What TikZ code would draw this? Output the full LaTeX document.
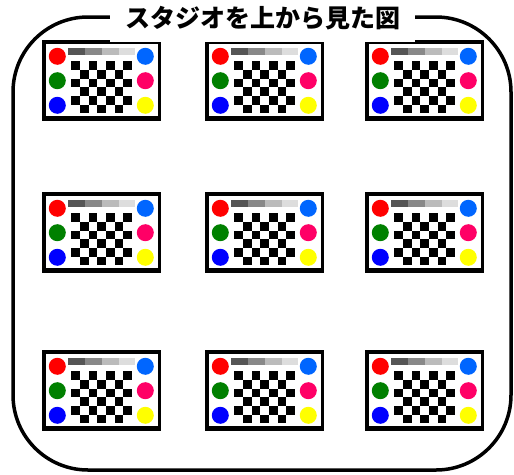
\documentclass[tikz,border=0pt]{standalone}
\usepackage{fontspec}
\newfontfamily\jpfont{Noto Sans CJK JP}
\definecolor{cred}{HTML}{FF0000}
\definecolor{cgreen}{HTML}{008000}
\definecolor{cblue}{HTML}{0000FF}
\definecolor{cazure}{HTML}{0066FF}
\definecolor{cpink}{HTML}{FF0066}
\definecolor{cyellow}{HTML}{FFFF00}
\definecolor{gA}{HTML}{555555}
\definecolor{gB}{HTML}{888888}
\definecolor{gC}{HTML}{BBBBBB}
\definecolor{gD}{HTML}{DDDDDD}
\tikzset{
  framestyle/.style={line width=3.5pt, rounded corners=75pt},
  titlestyle/.style={fill=white, inner sep=0pt, minimum width=305pt, minimum height=47pt,
    font=\jpfont\bfseries\fontsize{25}{25}\selectfont},
  dot/.style={radius=8.5pt},
  chart/.pic={
    \fill[black] (0,0) rectangle (119,81);
    \fill[white] (4,4) rectangle (116,76);
    \fill[gA] (26,8) rectangle (42.83,15.3);
    \fill[gB] (42.83,8) rectangle (59.66,15.3);
    \fill[gC] (59.66,8) rectangle (76.5,15.3);
    \fill[gD] (76.5,8) rectangle (93.3,15.3);
    \foreach \j in {0,2,4} {
      \foreach \i in {0,2,4,6} {\fill[black] (29.3+\i*8.67, 21.3+\j*8.67) rectangle ++(8.67,8.67);}
      \foreach \i in {1,3,5} {\fill[black] (29.3+\i*8.67, 21.3+\j*8.67+8.67) rectangle ++(8.67,8.67);}
    }
    \fill[cred] (15.3,16.3) circle[dot];
    \fill[cgreen] (15.3,40.7) circle[dot];
    \fill[cblue] (15.3,65.3) circle[dot];
    \fill[cazure] (103.3,16.3) circle[dot];
    \fill[cpink] (103.3,40.7) circle[dot];
    \fill[cyellow] (103.3,65.3) circle[dot];
  }
}
\begin{document}
\begin{tikzpicture}[x=1pt,y=-1pt]
\useasboundingbox (0,0) rectangle (514,474);
\draw[framestyle] (13,17) rectangle (511,470);
\foreach \cx in {42,205,365} {
  \foreach \cy in {40,192,350} {
    \pic at (\cx,\cy) {chart};
  }
}
\node[titlestyle] (title) at (262.5,18) {スタジオを上から見た図};
\end{tikzpicture}
\end{document}
